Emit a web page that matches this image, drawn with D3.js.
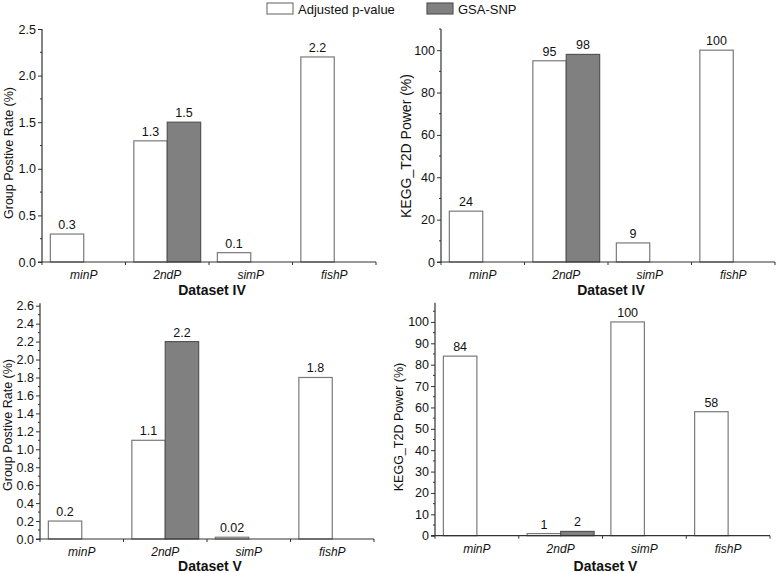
<!DOCTYPE html>
<html><head><meta charset="utf-8">
<script src="https://cdn.jsdelivr.net/npm/d3@7/dist/d3.min.js"></script>
<style>body{margin:0;background:#fff}svg{display:block;font-family:"Liberation Sans",Arial,sans-serif}</style>
</head><body><svg id="c" width="778" height="573"></svg>
<script>
const categories = ["minP", "2ndP", "simP", "fishP"];
const seriesNames = ["Adjusted p-value", "GSA-SNP"];
// Dataset IV
const rateIV_adj = [0.3, 1.3, 0.1, 2.2];
const rateIV_gsa = [null, 1.5, null, null];
const powerIV_adj = [24, 95, 9, 100];
const powerIV_gsa = [null, 98, null, null];
// Dataset V
const rateV_adj = [0.2, 1.1, 0.02, 1.8];
const rateV_gsa = [null, 2.2, null, null];
const powerV_adj = [84, 1, 100, 58];
const powerV_gsa = [null, 2, null, null];
// tick values
const rateIV_ticks = [0, 0.5, 1.0, 1.5, 2.0, 2.5];
const powerIV_ticks = [0, 20, 40, 60, 80, 100];
const rateV_ticks = [0, 0.2, 0.4, 0.6, 0.8, 1.0, 1.2, 1.4, 1.6, 1.8, 2.0, 2.2, 2.4, 2.6];
const powerV_ticks = [0, 10, 20, 30, 40, 50, 60, 70, 80, 90, 100];

const svg = d3.select("#c");
const fills = ["#ffffff", "#808080"];
const strokes = ["#7a7a7a", "#555555"];

function panel(o) {
  const g = svg.append("g");
  const x = d3.scaleBand().domain(categories).range([o.x0, o.x1]);
  const y = d3.scaleLinear().domain([0, o.ymax]).range([o.yb, o.yt]);
  const subw = x.bandwidth() * 0.4;
  // bars
  [o.adj, o.gsa].forEach((arr, si) => {
    const data = arr.map((v, i) => ({v, c: categories[i]})).filter(d => d.v !== null);
    g.selectAll(null).data(data).enter().append("rect")
      .attr("x", d => x(d.c) + x.bandwidth() / 2 - subw + si * subw)
      .attr("width", subw)
      .attr("y", d => y(d.v))
      .attr("height", d => y(0) - y(d.v))
      .attr("fill", fills[si]).attr("stroke", strokes[si]).attr("stroke-width", 1.2);
    g.selectAll(null).data(data).enter().append("text")
      .attr("x", d => x(d.c) + x.bandwidth() / 2 - subw / 2 + si * subw)
      .attr("y", d => y(d.v) - 5)
      .attr("text-anchor", "middle").attr("font-size", 12.5).attr("fill", "#111")
      .text(d => String(d.v));
  });
  // y axis
  const yAxis = d3.axisLeft(y).tickValues(o.ticks).tickSize(4).tickPadding(2).tickFormat(o.fmt);
  const ya = g.append("g").attr("transform", `translate(${o.x0},0)`).call(yAxis);
  ya.select(".domain").remove();
  ya.selectAll(".tick line").attr("stroke", "#333");
  ya.selectAll(".tick text").attr("font-size", 12.5).attr("fill", "#111").attr("font-family", "Liberation Sans, Arial, sans-serif");
  g.append("line").attr("x1", o.x0).attr("x2", o.x0).attr("y1", y(0)).attr("y2", o.yt - (o.extra || 0)).attr("stroke", "#333").attr("stroke-width", 1.2);
  // minor ticks
  const minor = d3.range(0, o.ymax + 1e-9, o.minor).filter(v => !o.ticks.some(t => Math.abs(t - v) < 1e-9));
  g.selectAll(null).data(minor).enter().append("line")
    .attr("x1", o.x0 - 2).attr("x2", o.x0).attr("y1", d => y(d)).attr("y2", d => y(d)).attr("stroke", "#333");
  // x axis
  g.append("line").attr("x1", o.x0 - 4).attr("x2", o.x1).attr("y1", y(0)).attr("y2", y(0)).attr("stroke", "#333").attr("stroke-width", 1.2);
  const bounds = categories.map(c => x(c)).concat([o.x1]);
  g.selectAll(null).data(bounds).enter().append("line")
    .attr("x1", d => d).attr("x2", d => d).attr("y1", y(0)).attr("y2", y(0) + 3).attr("stroke", "#333");
  g.selectAll(null).data(categories).enter().append("text")
    .attr("x", d => x(d) + x.bandwidth() / 2).attr("y", y(0) + 17)
    .attr("text-anchor", "middle").attr("font-size", 12).attr("font-style", "italic").attr("fill", "#111")
    .text(d => d);
  // titles
  g.append("text").attr("x", (o.x0 + o.x1) / 2 + 3).attr("y", o.xty)
    .attr("text-anchor", "middle").attr("font-size", 14).attr("font-weight", "bold").attr("fill", "#111").text(o.xtitle);
  g.append("text").attr("transform", `translate(${o.ytx},${o.yty}) rotate(-90)`)
    .attr("text-anchor", "middle").attr("font-size", o.ytfs).attr("fill", "#111").text(o.ytitle);
}

panel({x0: 42, x1: 376, yb: 262, yt: 29, ymax: 2.5, ticks: rateIV_ticks, minor: 0.25, fmt: d3.format(".1f"),
  adj: rateIV_adj, gsa: rateIV_gsa, xtitle: "Dataset IV", xty: 295, ytitle: "Group Postive Rate (%)", ytx: 13, yty: 153, ytfs: 12.5});
panel({x0: 441, x1: 775, yb: 262, yt: 29, ymax: 110, ticks: powerIV_ticks, minor: 10, fmt: d3.format("d"),
  adj: powerIV_adj, gsa: powerIV_gsa, xtitle: "Dataset IV", xty: 295, ytitle: "KEGG_T2D Power (%)", ytx: 411, yty: 146, ytfs: 14});
panel({x0: 40, x1: 374, yb: 539, yt: 305.7, ymax: 2.6, extra: 2.5, ticks: rateV_ticks, minor: 0.1, fmt: d3.format(".1f"),
  adj: rateV_adj, gsa: rateV_gsa, xtitle: "Dataset V", xty: 571, ytitle: "Group Postive Rate (%)", ytx: 12, yty: 425, ytfs: 12.5});
panel({x0: 435, x1: 770, yb: 535.7, yt: 302.7, ymax: 109, ticks: powerV_ticks, minor: 5, fmt: d3.format("d"),
  adj: powerV_adj, gsa: powerV_gsa, xtitle: "Dataset V", xty: 571, ytitle: "KEGG_T2D Power (%)", ytx: 403, yty: 427, ytfs: 12.5});

// legend
const leg = svg.append("g");
const legX = [267, 427];
seriesNames.forEach((n, i) => {
  leg.append("rect").attr("x", legX[i]).attr("y", 3).attr("width", 26).attr("height", 11)
    .attr("fill", fills[i]).attr("stroke", strokes[i]).attr("stroke-width", 1.2);
  leg.append("text").attr("x", legX[i] + 31).attr("y", 14).attr("font-size", 13).attr("fill", "#111").text(n);
});
</script></body></html>
